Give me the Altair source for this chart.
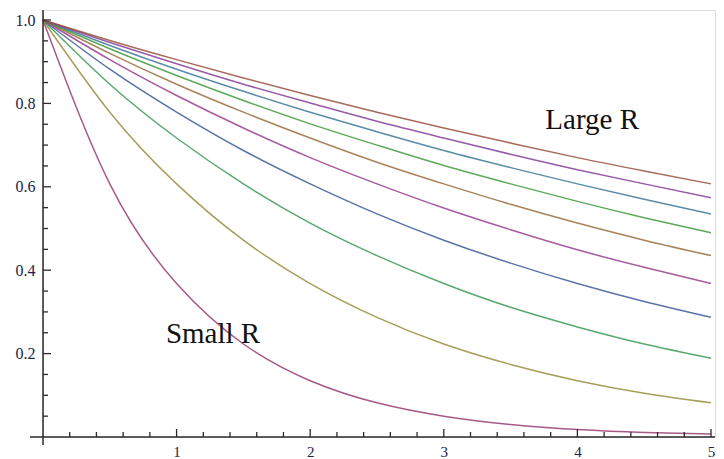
import altair as alt
import pandas as pd

# ---- data ----
t_values = [0, 0.5, 1, 1.5, 2, 2.5, 3, 3.5, 4, 4.5, 5]
series_names = ["R1", "R2", "R3", "R4", "R5", "R6", "R7", "R8", "R9", "R10"]
r1 = [1.0, 0.607, 0.368, 0.223, 0.135, 0.082, 0.050, 0.030, 0.018, 0.011, 0.007]
r2 = [1.0, 0.779, 0.607, 0.472, 0.368, 0.287, 0.223, 0.174, 0.135, 0.105, 0.082]
r3 = [1.0, 0.846, 0.717, 0.607, 0.513, 0.435, 0.368, 0.311, 0.264, 0.223, 0.189]
r4 = [1.0, 0.882, 0.779, 0.687, 0.607, 0.535, 0.472, 0.417, 0.368, 0.325, 0.287]
r5 = [1.0, 0.905, 0.819, 0.741, 0.670, 0.607, 0.549, 0.497, 0.449, 0.407, 0.368]
r6 = [1.0, 0.920, 0.846, 0.779, 0.717, 0.659, 0.607, 0.558, 0.513, 0.472, 0.435]
r7 = [1.0, 0.931, 0.867, 0.807, 0.751, 0.700, 0.651, 0.607, 0.565, 0.526, 0.490]
r8 = [1.0, 0.939, 0.882, 0.829, 0.779, 0.732, 0.687, 0.646, 0.607, 0.570, 0.535]
r9 = [1.0, 0.946, 0.895, 0.846, 0.801, 0.757, 0.717, 0.678, 0.641, 0.607, 0.574]
r10 = [1.0, 0.951, 0.905, 0.861, 0.819, 0.779, 0.741, 0.705, 0.670, 0.638, 0.607]
series_values = [r1, r2, r3, r4, r5, r6, r7, r8, r9, r10]
series_colors = ["#993D71", "#998C3D", "#3D9956", "#3D5A99", "#993D8F",
                 "#996D3D", "#42993D", "#3D7899", "#853D99", "#99503D"]

x_major = [1, 2, 3, 4, 5]
x_minor = [0.2, 0.4, 0.6, 0.8, 1.2, 1.4, 1.6, 1.8, 2.2, 2.4, 2.6, 2.8,
           3.2, 3.4, 3.6, 3.8, 4.2, 4.4, 4.6, 4.8]
y_major = [0.2, 0.4, 0.6, 0.8, 1.0]
y_minor = [0.05, 0.1, 0.15, 0.25, 0.3, 0.35, 0.45, 0.5, 0.55, 0.65, 0.7,
           0.75, 0.85, 0.9, 0.95]

annotations = ["Large R", "Small R"]
annot_x = [3.76, 0.92]
annot_y = [0.739, 0.225]

# ---- layout ----
X_MAX = 5.03
Y_MAX = 1.024
W = 672
H = 427
px_x = W / X_MAX
px_y = H / Y_MAX

rows = []
for name, vals in zip(series_names, series_values):
    for t, v in zip(t_values, vals):
        rows.append({"t": t, "v": v, "series": name})
df = pd.DataFrame(rows)

xs = alt.Scale(domain=[0, X_MAX], nice=False, zero=False)
ys = alt.Scale(domain=[0, Y_MAX], nice=False, zero=False)

label_color = "#22224a"
lines = alt.Chart(df).mark_line(strokeWidth=1.5, opacity=0.85, interpolate="natural", clip=False).encode(
    x=alt.X("t:Q", scale=xs, axis=alt.Axis(values=x_major, ticks=False, tickSize=0, domain=False, grid=False,
                                             labelFont="Liberation Serif", labelFontSize=15, labelColor=label_color,
                                             labelPadding=7, title=None, format="d")),
    y=alt.Y("v:Q", scale=ys, axis=alt.Axis(values=y_major, ticks=False, tickSize=0, domain=False, grid=False,
                                             labelFont="Liberation Serif", labelFontSize=16, labelColor=label_color,
                                             labelPadding=8, title=None, format=".1f")),
    color=alt.Color("series:N", scale=alt.Scale(domain=series_names, range=series_colors), legend=None),
)

axis_color = "#2a2a2a"
# axis lines (Mathematica style crossing at origin)
xaxis_df = pd.DataFrame({"x": [-13 / px_x], "x2": [X_MAX], "y": [0.0]})
yaxis_df = pd.DataFrame({"x": [0.0], "y": [-8 / px_y], "y2": [Y_MAX]})
xaxis_line = alt.Chart(xaxis_df).mark_rule(color=axis_color, strokeWidth=1.5, clip=False).encode(
    x=alt.X("x:Q", scale=xs), x2="x2:Q", y=alt.Y("y:Q", scale=ys))
yaxis_line = alt.Chart(yaxis_df).mark_rule(color=axis_color, strokeWidth=1.5, clip=False).encode(
    x=alt.X("x:Q", scale=xs), y=alt.Y("y:Q", scale=ys), y2="y2:Q")

# inward ticks
xt = pd.DataFrame({"x": x_major + x_minor,
                   "len": [8 / px_y] * len(x_major) + [5 / px_y] * len(x_minor)})
xt["y0"] = 0.0
yt = pd.DataFrame({"y": y_major + y_minor,
                   "len": [8 / px_x] * len(y_major) + [5 / px_x] * len(y_minor)})
yt["x0"] = 0.0
xticks = alt.Chart(xt).mark_rule(color=axis_color, strokeWidth=1.3).encode(
    x=alt.X("x:Q", scale=xs), y=alt.Y("y0:Q", scale=ys), y2="len:Q")
yticks = alt.Chart(yt).mark_rule(color=axis_color, strokeWidth=1.3).encode(
    y=alt.Y("y:Q", scale=ys), x=alt.X("x0:Q", scale=xs), x2="len:Q")

ann_df = pd.DataFrame({"label": annotations, "x": annot_x, "y": annot_y})
texts = alt.Chart(ann_df).mark_text(font="Liberation Serif", fontSize=29, align="left",
                                     baseline="alphabetic", color="#111111").encode(
    x=alt.X("x:Q", scale=xs), y=alt.Y("y:Q", scale=ys), text="label:N")

chart = alt.layer(lines, xaxis_line, yaxis_line, xticks, yticks, texts).properties(
    width=W, height=H,
    autosize=alt.AutoSizeParams(type="none"),
    padding={"left": 35, "top": 2, "right": 1, "bottom": 22},
).configure_view(stroke=None).configure(background="white")

chart.save("out.html", embed_options={"renderer": "svg", "actions": False})
